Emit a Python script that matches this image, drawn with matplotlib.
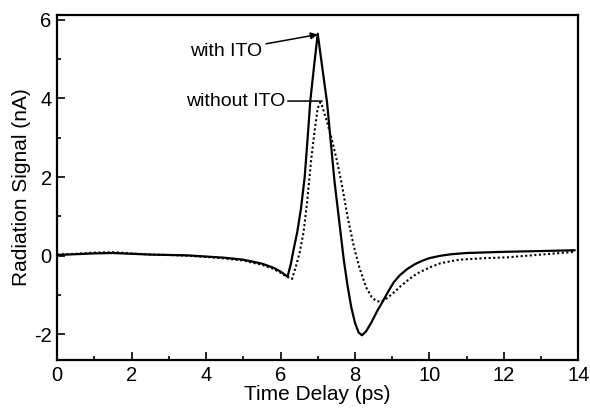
import matplotlib
matplotlib.use("Agg")
import matplotlib.pyplot as plt
from matplotlib.ticker import MultipleLocator

plt.rcParams['font.family'] = ['Liberation Sans', 'DejaVu Sans']
plt.rcParams['axes.unicode_minus'] = False

# with ITO (solid)
t_with = [0, 0.5, 1.0, 1.5, 2.0, 2.5, 3.0, 3.5, 4.0, 4.5, 5.0, 5.5, 5.8, 6.0,
          6.19, 6.28, 6.35, 6.45, 6.55, 6.65, 6.73, 6.8, 6.9, 7.0, 7.12, 7.25,
          7.35, 7.45, 7.6, 7.7, 7.8, 7.9, 8.0, 8.1, 8.19, 8.3, 8.45, 8.6, 8.73,
          8.9, 9.04, 9.2, 9.4, 9.6, 9.8, 10.0, 10.3, 10.6, 11.0, 12.0, 13.0, 13.9]
s_with = [0.02, 0.04, 0.06, 0.07, 0.05, 0.03, 0.02, 0.01, -0.02, -0.05, -0.1,
          -0.2, -0.3, -0.4, -0.53, -0.2, 0.15, 0.6, 1.2, 2.0, 3.0, 3.93, 4.8,
          5.64, 4.8, 3.9, 2.9, 1.9, 0.7, -0.1, -0.75, -1.3, -1.7, -1.95, -2.02,
          -1.92, -1.68, -1.4, -1.19, -0.9, -0.68, -0.5, -0.34, -0.22, -0.13,
          -0.06, 0.0, 0.04, 0.07, 0.1, 0.12, 0.14]

# without ITO (dotted)
t_without = [0, 0.5, 1.0, 1.5, 2.0, 2.5, 3.0, 3.5, 4.0, 4.5, 5.0, 5.5, 5.8,
             6.0, 6.15, 6.31, 6.42, 6.52, 6.62, 6.72, 6.82, 6.92, 7.0, 7.07,
             7.12, 7.25, 7.38, 7.52, 7.65, 7.8, 7.97, 8.12, 8.3, 8.45, 8.57,
             8.7, 8.86, 9.05, 9.22, 9.45, 9.67, 10.0, 10.3, 10.8, 11.5, 12.1,
             13.0, 13.9]
s_without = [0.03, 0.05, 0.08, 0.09, 0.06, 0.03, 0.02, 0.0, -0.03, -0.07,
             -0.12, -0.23, -0.33, -0.43, -0.52, -0.59, -0.25, 0.1, 0.6, 1.4,
             2.4, 3.2, 3.75, 3.9, 3.8, 3.4, 2.95, 2.4, 1.8, 1.0, 0.24, -0.3,
             -0.8, -1.05, -1.15, -1.17, -1.08, -0.93, -0.78, -0.6, -0.45, -0.3,
             -0.19, -0.1, -0.06, -0.04, 0.03, 0.1]

fig = plt.figure(figsize=(5.9, 4.12), dpi=100)
ax = fig.add_axes([0.097, 0.126, 0.883, 0.838])

ax.plot(t_with, s_with, color='black', lw=1.6, solid_joinstyle='round')
ax.plot(t_without, s_without, color='black', lw=1.5, linestyle=(0, (1, 1.2)))

ax.set_xlim(0, 14)
ax.set_ylim(-2.65, 6.12)
ax.xaxis.set_major_locator(MultipleLocator(2))
ax.xaxis.set_minor_locator(MultipleLocator(1))
ax.yaxis.set_major_locator(MultipleLocator(2))
ax.yaxis.set_minor_locator(MultipleLocator(1))
ax.tick_params(which='both', direction='in', labelsize=14.5, width=1.2)
ax.tick_params(which='major', length=6, pad=4)
ax.tick_params(which='minor', length=3)
for sp in ax.spines.values():
    sp.set_linewidth(1.6)

ax.set_xlabel('Time Delay (ps)', fontsize=15, labelpad=0)
ax.set_ylabel('Radiation Signal (nA)', fontsize=15, labelpad=2)

ax.annotate('with ITO', xy=(7.0, 5.62), xytext=(5.5, 5.2),
            fontsize=14, ha='right', va='center',
            arrowprops=dict(arrowstyle='-|>', color='black', lw=1.1,
                            shrinkA=1, shrinkB=0, mutation_scale=10))
ax.annotate('without ITO', xy=(7.12, 3.93), xytext=(6.12, 3.93),
            fontsize=14, ha='right', va='center',
            arrowprops=dict(arrowstyle='-', color='black', lw=1.1,
                            shrinkA=0, shrinkB=0))

fig.savefig('out.png', dpi=100)
